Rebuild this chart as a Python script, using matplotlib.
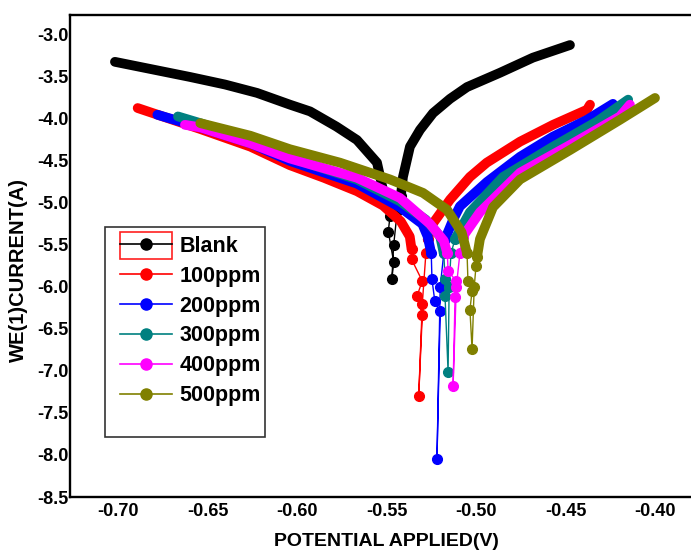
import matplotlib
matplotlib.use("Agg")
import matplotlib.pyplot as plt
from matplotlib.lines import Line2D
from matplotlib.patches import Rectangle

plt.rcParams['font.family'] = ['Liberation Sans', 'DejaVu Sans']
plt.rcParams['font.weight'] = 'bold'
plt.rcParams['axes.unicode_minus'] = False

# series labels and colours
labels = ["Blank", "100ppm", "200ppm", "300ppm", "400ppm", "500ppm"]
colors = ["black", "#ff0000", "#0000ff", "#008080", "#ff00ff", "#808000"]

# cathodic branches (dense data, drawn as thick band)
cath_x = [
    [-0.7017, -0.6598, -0.6402, -0.6223, -0.6039, -0.5927, -0.578, -0.5665, -0.5553, -0.552, -0.5508],
    [-0.689, -0.654, -0.626, -0.604, -0.585, -0.5665, -0.552, -0.542, -0.537, -0.536],
    [-0.678, -0.654, -0.626, -0.604, -0.5665, -0.5425, -0.530, -0.527, -0.525],
    [-0.6665, -0.654, -0.626, -0.604, -0.5665, -0.5425, -0.528, -0.520, -0.518],
    [-0.6626, -0.654, -0.626, -0.604, -0.5665, -0.5425, -0.5257, -0.518, -0.516],
    [-0.654, -0.626, -0.604, -0.576, -0.548, -0.5296, -0.5162, -0.508, -0.505],
]
cath_y = [
    [-3.32, -3.50, -3.59, -3.69, -3.83, -3.91, -4.09, -4.25, -4.52, -4.84, -5.02],
    [-3.87, -4.12, -4.33, -4.55, -4.70, -4.86, -5.03, -5.22, -5.40, -5.55],
    [-3.95, -4.10, -4.29, -4.50, -4.77, -5.05, -5.25, -5.40, -5.60],
    [-3.97, -4.05, -4.25, -4.46, -4.72, -4.98, -5.20, -5.40, -5.60],
    [-4.07, -4.10, -4.29, -4.47, -4.70, -4.94, -5.25, -5.45, -5.60],
    [-4.05, -4.20, -4.36, -4.52, -4.72, -4.88, -5.08, -5.35, -5.60],
]

# sparse points around the corrosion potential
spike_x = [
    [-0.548, -0.549, -0.546, -0.547, -0.546, -0.544],
    [-0.536, -0.530, -0.533, -0.530, -0.532, -0.530, -0.528],
    [-0.5246, -0.523, -0.520, -0.5218, -0.520, -0.518],
    [-0.5173, -0.5173, -0.5156, -0.515, -0.514],
    [-0.5156, -0.511, -0.5117, -0.5128, -0.511, -0.509],
    [-0.5045, -0.5022, -0.5034, -0.5022, -0.501, -0.500],
]
spike_y = [
    [-5.15, -5.34, -5.70, -5.91, -5.50, -5.10],
    [-5.67, -5.93, -6.11, -6.33, -7.30, -6.20, -5.60],
    [-5.91, -6.17, -6.29, -8.05, -6.00, -5.60],
    [-5.90, -6.11, -7.01, -6.00, -5.60],
    [-5.81, -5.93, -6.12, -7.18, -6.00, -5.60],
    [-5.93, -6.05, -6.27, -6.74, -6.00, -5.75],
]

# anodic branches (dense data, drawn as thick band)
anod_x = [
    [-0.542, -0.5408, -0.5369, -0.5313, -0.524, -0.5145, -0.505, -0.4866, -0.4682, -0.4475],
    [-0.527, -0.5246, -0.5145, -0.5034, -0.494, -0.4754, -0.457, -0.438, -0.4363],
    [-0.5173, -0.5128, -0.509, -0.4939, -0.4754, -0.457, -0.438, -0.4235],
    [-0.5117, -0.5034, -0.4849, -0.457, -0.4324, -0.415],
    [-0.5073, -0.4978, -0.4754, -0.4475, -0.4196, -0.414],
    [-0.4994, -0.4978, -0.4905, -0.4754, -0.4475, -0.4196, -0.400],
]
anod_y = [
    [-4.92, -4.69, -4.33, -4.13, -3.93, -3.76, -3.62, -3.45, -3.27, -3.12],
    [-5.43, -5.26, -4.96, -4.69, -4.52, -4.27, -4.07, -3.89, -3.83],
    [-5.43, -5.20, -5.04, -4.75, -4.45, -4.21, -4.01, -3.82],
    [-5.43, -5.11, -4.69, -4.33, -4.03, -3.77],
    [-5.40, -5.11, -4.64, -4.31, -3.97, -3.83],
    [-5.64, -5.43, -5.05, -4.72, -4.37, -4.01, -3.75],
]

xticks = [-0.70, -0.65, -0.60, -0.55, -0.50, -0.45, -0.40]
yticks = [-8.5, -8.0, -7.5, -7.0, -6.5, -6.0, -5.5, -5.0, -4.5, -4.0, -3.5, -3.0]

fig = plt.figure(figsize=(6.91, 5.5), dpi=100)
ax = fig.add_axes([70 / 691, 53 / 550, 621 / 691, 482 / 550])

for i in range(len(labels)):
    c = colors[i]
    ax.plot(cath_x[i], cath_y[i], color=c, lw=7, solid_capstyle='round', solid_joinstyle='round')
    sx = [cath_x[i][-1]] + spike_x[i] + [anod_x[i][0]]
    sy = [cath_y[i][-1]] + spike_y[i] + [anod_y[i][0]]
    ax.plot(sx, sy, color=c, lw=1, marker='o', ms=7)
    ax.plot(anod_x[i], anod_y[i], color=c, lw=7, solid_capstyle='round', solid_joinstyle='round')

ax.set_xlim(-0.7268, -0.3799)
ax.set_ylim(-8.5, -2.7625)
ax.set_xticks(xticks)
ax.set_xticklabels(["%.2f" % v for v in xticks])
ax.set_yticks(yticks)
ax.set_yticklabels(["%.1f" % v for v in yticks])
ax.tick_params(length=0, labelsize=13)
ax.tick_params(axis='x', pad=4)
ax.tick_params(axis='y', pad=1)
for s in ['left', 'bottom', 'top']:
    ax.spines[s].set_linewidth(1.7)
ax.spines['right'].set_visible(False)

ax.set_xlabel("POTENTIAL APPLIED(V)", fontsize=14, fontweight='bold', labelpad=10)
ax.xaxis.set_label_coords(0.509, -0.075)
ax.set_ylabel("WE(1)CURRENT(A)", fontsize=14.5, fontweight='bold')
ax.yaxis.set_label_coords(-0.0676, 0.471)

handles = [Line2D([], [], color=c, lw=1.2, marker='o', ms=8) for c in colors]
leg = ax.legend(handles, labels, loc='upper left',
                bbox_to_anchor=(50 / 621, (497 - 236) / 482),
                frameon=False, fontsize=15.5, handlelength=2.42, handletextpad=0.33,
                labelspacing=0.41, borderpad=0, borderaxespad=0)

# legend frame and selection box around the first handle
ax.add_patch(Rectangle((35 / 621, 60 / 482), 160 / 621, 210 / 482, transform=ax.transAxes,
                       fill=False, edgecolor='#333333', lw=1.2, zorder=5))
ax.add_patch(Rectangle((50 / 621, 238 / 482), 52 / 621, 27 / 482, transform=ax.transAxes,
                       fill=False, edgecolor='#ff2020', lw=1.2, zorder=5))

fig.savefig("out.png", dpi=100)
